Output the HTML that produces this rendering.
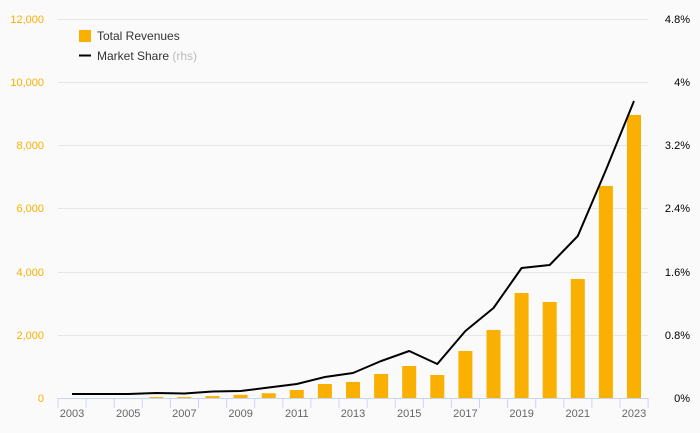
<!DOCTYPE html>
<html><head><style>
body{margin:0;background:#fafafa;}
svg{display:block;font-family:"Liberation Sans",sans-serif;}
</style></head><body>
<svg width="700" height="433" viewBox="0 0 700 433">
<rect width="700" height="433" fill="#fafafa"/>
<g stroke="#e6e6e6" stroke-width="1">
<line x1="58" x2="648" y1="19.5" y2="19.5"/>
<line x1="58" x2="648" y1="82.5" y2="82.5"/>
<line x1="58" x2="648" y1="145.5" y2="145.5"/>
<line x1="58" x2="648" y1="208.5" y2="208.5"/>
<line x1="58" x2="648" y1="272.5" y2="272.5"/>
<line x1="58" x2="648" y1="335.5" y2="335.5"/>
</g>
<g fill="#f9b000" font-size="11" text-anchor="end">
<text x="44" y="23">12,000</text>
<text x="44" y="86">10,000</text>
<text x="44" y="149">8,000</text>
<text x="44" y="212">6,000</text>
<text x="44" y="276">4,000</text>
<text x="44" y="339">2,000</text>
<text x="44" y="402">0</text>
</g>
<g fill="#000" font-size="11" text-anchor="end">
<text x="690" y="23">4.8%</text>
<text x="690" y="86">4%</text>
<text x="690" y="149">3.2%</text>
<text x="690" y="212">2.4%</text>
<text x="690" y="276">1.6%</text>
<text x="690" y="339">0.8%</text>
<text x="690" y="402">0%</text>
</g>
<g fill="#f9b000" id="bars"></g>
<line x1="58" x2="648" y1="398.5" y2="398.5" stroke="#ccd6eb"/>
<g id="ticks" stroke="#ccd6eb"></g>
<g id="xl" fill="#666" font-size="11" text-anchor="middle"></g>
<polyline id="ln" fill="none" stroke="#000" stroke-width="2" stroke-linejoin="round"/>
<rect x="79" y="30" width="12" height="12" fill="#f9b000"/>
<text x="97" y="40" font-size="12" fill="#333">Total Revenues</text>
<line x1="79" x2="91" y1="55.5" y2="55.5" stroke="#000" stroke-width="2"/>
<text x="97" y="60" font-size="12" fill="#333">Market Share <tspan fill="#bbb">(rhs)</tspan></text>
</svg>
<script>
const ns="http://www.w3.org/2000/svg";
const vals=[0,0,0,30,30,60,100,150,253,443,507,760,1013,728,1488,2153,3325,3040,3768,6713,8961];
const ly=[394,394,394,393,393.5,391.5,391,387.5,384,377,373,361,351,364,331,308,268,265,236,170,101];
const b=document.getElementById("bars"),t=document.getElementById("ticks"),xl=document.getElementById("xl");
let pts=[];
for(let i=0;i<21;i++){
 const cx=72+i*28.1;
 const h=vals[i]*379/12000;
 if(h>0){const r=document.createElementNS(ns,"rect");r.setAttribute("x",cx-7);r.setAttribute("y",398-h);r.setAttribute("width",14);r.setAttribute("height",h);b.appendChild(r);}
 pts.push(cx+","+ly[i]);
}
for(let i=0;i<=21;i++){const x=58+i*28.1;const l=document.createElementNS(ns,"line");l.setAttribute("x1",x);l.setAttribute("x2",x);l.setAttribute("y1",398);l.setAttribute("y2",408);t.appendChild(l);}
for(let i=0;i<21;i+=2){const tx=document.createElementNS(ns,"text");tx.setAttribute("x",72+i*28.1);tx.setAttribute("y",417);tx.textContent=2003+i;xl.appendChild(tx);}
document.getElementById("ln").setAttribute("points",pts.join(" "));
</script>
</body></html>
